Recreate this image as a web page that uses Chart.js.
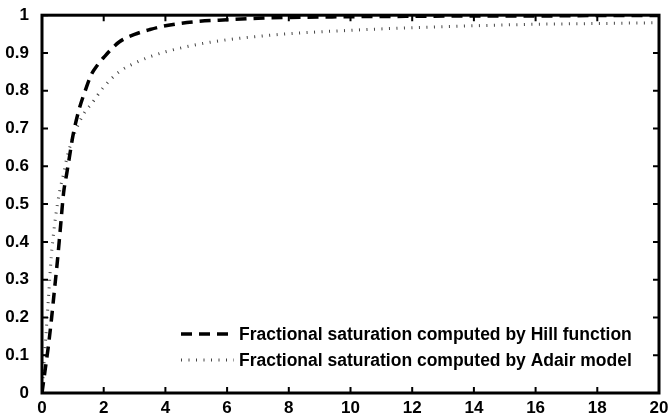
<!DOCTYPE html>
<html>
<head>
<meta charset="utf-8">
<script src="https://cdn.jsdelivr.net/npm/chart.js@4"></script>
<style>
  html, body { margin: 0; padding: 0; background: #fff; }
  #wrap { width: 669px; height: 420px; }
</style>
</head>
<body>
<div id="wrap"><canvas id="chart"></canvas></div>
<script>
// Data
const hillX = [0, 0.1, 0.2, 0.3, 0.4, 0.5, 0.6, 0.7, 0.8, 0.9, 1.0, 1.2, 1.4, 1.6, 1.8, 2.0, 2.5, 3.0, 3.5, 4, 5, 6, 7, 8, 10, 12, 14, 16, 18, 20];
const hillY = [0, 0.06, 0.12, 0.19, 0.27, 0.35, 0.44, 0.53, 0.58, 0.63, 0.68, 0.75, 0.80, 0.843, 0.868, 0.888, 0.929, 0.949, 0.962, 0.972, 0.983, 0.988, 0.992, 0.994, 0.996, 0.997, 0.998, 0.998, 0.999, 0.999];

const adairX = [0, 0.1, 0.2, 0.3, 0.4, 0.5, 0.6, 0.7, 0.8, 0.9, 1.0, 1.2, 1.4, 1.6, 2.0, 2.5, 3, 3.5, 4, 5, 6, 7, 8, 10, 12, 14, 16, 18, 20];
const adairY = [0, 0.12, 0.24, 0.36, 0.44, 0.50, 0.545, 0.58, 0.62, 0.65, 0.675, 0.715, 0.745, 0.765, 0.81, 0.85, 0.873, 0.89, 0.903, 0.922, 0.935, 0.944, 0.951, 0.96, 0.967, 0.972, 0.976, 0.978, 0.98];

const xTicks = [0, 2, 4, 6, 8, 10, 12, 14, 16, 18, 20];
const yTicks = [0, 0.1, 0.2, 0.3, 0.4, 0.5, 0.6, 0.7, 0.8, 0.9, 1];

const labels = [
    'Fractional saturation computed by Hill function',
    'Fractional saturation computed by Adair model'
];

const FAMILY = '"Liberation Sans", Arial, sans-serif';

function toPoints(xs, ys) {
    return xs.map((x, i) => ({ x: x, y: ys[i] }));
}

// box around the axes with inward ticks on all four sides
const boxPlugin = {
    id: 'box',
    afterDatasetsDraw(chart) {
        const { ctx, chartArea: a, scales } = chart;
        ctx.save();
        ctx.strokeStyle = '#000';
        ctx.lineWidth = 2;
        ctx.beginPath();
        xTicks.forEach(v => {
            const px = scales.x.getPixelForValue(v);
            ctx.moveTo(px, a.bottom); ctx.lineTo(px, a.bottom - 6);
            ctx.moveTo(px, a.top); ctx.lineTo(px, a.top + 6);
        });
        yTicks.forEach(v => {
            const py = scales.y.getPixelForValue(v);
            ctx.moveTo(a.left, py); ctx.lineTo(a.left + 6, py);
            ctx.moveTo(a.right, py); ctx.lineTo(a.right - 6, py);
        });
        ctx.stroke();
        ctx.lineWidth = 3;
        ctx.strokeRect(a.left, a.top, a.right - a.left, a.bottom - a.top);
        ctx.restore();
    },
    afterDraw(chart) {
        // legend inside the axes, bottom right, no frame
        const { ctx, chartArea: a } = chart;
        ctx.save();
        ctx.font = 'bold 17.5px ' + FAMILY;
        ctx.textBaseline = 'middle';
        ctx.fillStyle = '#000';
        chart.data.datasets.forEach((ds, i) => {
            const y = a.bottom - 59 + i * 26;
            ctx.beginPath();
            ctx.strokeStyle = ds.borderColor;
            ctx.lineWidth = ds.borderWidth;
            ctx.setLineDash(ds.borderDash);
            ctx.moveTo(a.left + 139, y);
            ctx.lineTo(a.left + 192, y);
            ctx.stroke();
            ctx.setLineDash([]);
            ctx.fillText(ds.label, a.left + 197, y + 1);
        });
        ctx.restore();
    }
};

new Chart(document.getElementById('chart'), {
    type: 'line',
    data: {
        datasets: [
            {
                label: labels[0],
                data: toPoints(hillX, hillY),
                borderColor: '#000',
                borderWidth: 3.5,
                borderDash: [11, 7],
                pointRadius: 0,
                cubicInterpolationMode: 'monotone',
                fill: false
            },
            {
                label: labels[1],
                data: toPoints(adairX, adairY),
                borderColor: '#444',
                borderWidth: 3,
                borderDash: [1, 6.5],
                pointRadius: 0,
                cubicInterpolationMode: 'monotone',
                fill: false
            }
        ]
    },
    options: {
        responsive: true,
        maintainAspectRatio: false,
        animation: false,
        layout: { padding: { top: 14, right: 10, left: 0, bottom: 0 } },
        plugins: {
            legend: { display: false },
            tooltip: { enabled: false }
        },
        scales: {
            x: {
                type: 'linear',
                min: 0,
                max: 20,
                afterFit: s => { s.height = 27; },
                afterBuildTicks: s => { s.ticks = xTicks.map(v => ({ value: v })); },
                grid: { display: false },
                border: { display: false },
                ticks: {
                    color: '#000',
                    font: { family: FAMILY, size: 17, weight: 'bold' },
                    padding: -3,
                    maxRotation: 0,
                    callback: v => String(v)
                }
            },
            y: {
                type: 'linear',
                min: 0,
                max: 1,
                afterFit: s => { s.width = 42; },
                afterBuildTicks: s => { s.ticks = yTicks.map(v => ({ value: v })); },
                grid: { display: false },
                border: { display: false },
                ticks: {
                    color: '#000',
                    font: { family: FAMILY, size: 17, weight: 'bold' },
                    padding: 5,
                    callback: v => String(Math.round(v * 10) / 10)
                }
            }
        }
    },
    plugins: [boxPlugin]
});
</script>
</body>
</html>
